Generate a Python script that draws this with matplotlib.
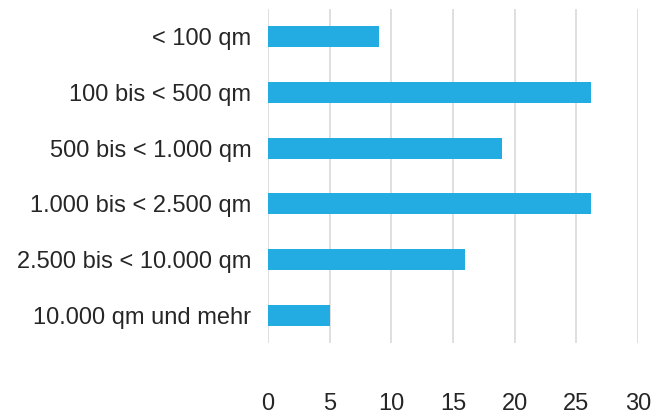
import matplotlib.pyplot as plt

plt.rcParams['font.family'] = ['Liberation Sans', 'DejaVu Sans']

categories = ['< 100 qm', '100 bis < 500 qm', '500 bis < 1.000 qm',
              '1.000 bis < 2.500 qm', '2.500 bis < 10.000 qm', '10.000 qm und mehr']
values = [9, 26.2, 19, 26.2, 16, 5]
xticks = [0, 5, 10, 15, 20, 25, 30]

fig = plt.figure(figsize=(6.67, 4.17), dpi=100)
ax = fig.add_axes([268 / 667, 1 - 343 / 417, (638 - 268) / 667, (343 - 9) / 417])

pos = list(range(len(categories)))
ax.barh(pos, values, height=0.375, color='#22ace2', zorder=3)

ax.set_xlim(0, 30)
ax.set_ylim(len(categories) - 0.5, -0.5)
ax.set_xticks(xticks)
ax.set_yticks(pos)
ax.set_yticklabels(categories)
ax.grid(axis='x', color='#d9d9d9', linewidth=1.2, zorder=0)
ax.tick_params(axis='x', length=0, pad=36, labelsize=17, labelcolor='#262626')
ax.tick_params(axis='y', length=0, pad=12, labelsize=17, labelcolor='#262626')
for s in ax.spines.values():
    s.set_visible(False)

fig.savefig('out.png', dpi=100)
